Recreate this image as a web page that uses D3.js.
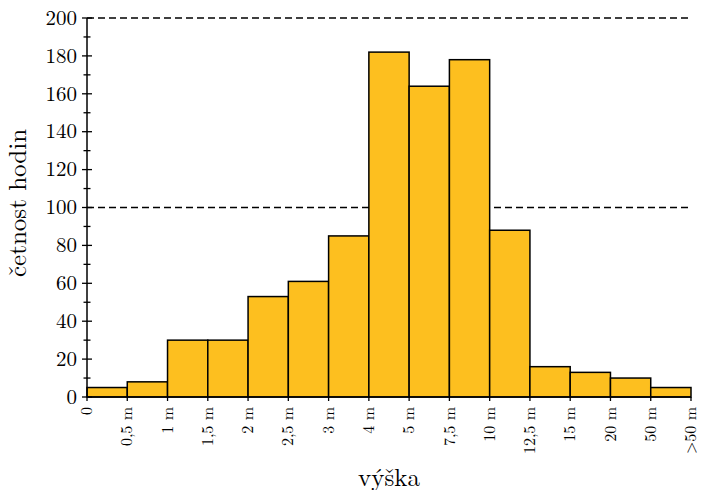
<!DOCTYPE html>
<html><head><meta charset="utf-8">
<script src="https://cdn.jsdelivr.net/npm/d3@7"></script>
<style>body{margin:0;background:#fff}svg{display:block}</style>
</head><body>
<svg id="c" width="701" height="490"></svg>
<script>
const edges = ["0","0,5 m","1 m","1,5 m","2 m","2,5 m","3 m","4 m","5 m","7,5 m","10 m","12,5 m","15 m","20 m","50 m",">50 m"];
const counts = [5,8,30,30,53,61,85,182,164,178,88,16,13,10,5];
const yMajor = [0,20,40,60,80,100,120,140,160,180,200];
const yMinor = [10,30,50,70,90,110,130,150,170,190];
const dashedLevels = [100,200];

const FONT = "'Latin Modern Roman','Liberation Serif',serif";
const svg = d3.select("#c");
const L=87,R=691,T=18,B=397;
const x = d3.scaleLinear().domain([0,counts.length]).range([L,R]);
const y = d3.scaleLinear().domain([0,200]).range([B,T]);

// dashed lines
svg.selectAll("line.d").data(dashedLevels).join("line")
 .attr("x1",L).attr("x2",R).attr("y1",d=>y(d)).attr("y2",d=>y(d))
 .attr("stroke","#000").attr("stroke-width",1.3).attr("stroke-dasharray","7,4");

// bars
svg.selectAll("rect.b").data(counts).join("rect")
 .attr("x",(d,i)=>x(i)).attr("width",x(1)-x(0))
 .attr("y",d=>y(d)).attr("height",d=>y(0)-y(d))
 .attr("fill","#fdbf1f").attr("stroke","#000").attr("stroke-width",1.5);

// y axis
svg.append("line").attr("x1",L).attr("x2",L).attr("y1",T).attr("y2",B).attr("stroke","#000").attr("stroke-width",1.5);
svg.selectAll("line.ym").data(yMajor).join("line")
 .attr("x1",L-5).attr("x2",L+5).attr("y1",d=>y(d)).attr("y2",d=>y(d)).attr("stroke","#000").attr("stroke-width",1.3);
svg.selectAll("line.yn").data(yMinor).join("line")
 .attr("x1",L-3.5).attr("x2",L+3.5).attr("y1",d=>y(d)).attr("y2",d=>y(d)).attr("stroke","#000").attr("stroke-width",1.3);
svg.selectAll("text.yl").data(yMajor).join("text")
 .attr("x",L-10).attr("y",d=>y(d)).attr("dy","0.32em").attr("text-anchor","end")
 .attr("font-family",FONT).attr("font-size",21).text(d=>d);

// x axis
svg.append("line").attr("x1",L).attr("x2",R).attr("y1",B).attr("y2",B).attr("stroke","#000").attr("stroke-width",1.5);
svg.selectAll("line.xt").data(edges).join("line")
 .attr("x1",(d,i)=>x(i)).attr("x2",(d,i)=>x(i)).attr("y1",B).attr("y2",B+4).attr("stroke","#000").attr("stroke-width",1.3);
svg.selectAll("text.xl").data(edges).join("text")
 .attr("transform",(d,i)=>`translate(${x(i)},${B+10}) rotate(-90)`)
 .attr("dy","0.32em").attr("text-anchor","end")
 .attr("font-family",FONT).attr("font-size",16).text(d=>d);

// titles
svg.append("text").attr("transform",`translate(26,203) rotate(-90)`)
 .attr("text-anchor","middle").attr("font-family",FONT).attr("font-size",25).text("četnost hodin");
svg.append("text").attr("x",(L+R)/2).attr("y",486).attr("text-anchor","middle")
 .attr("font-family",FONT).attr("font-size",25).text("výška");
</script>
</body></html>
